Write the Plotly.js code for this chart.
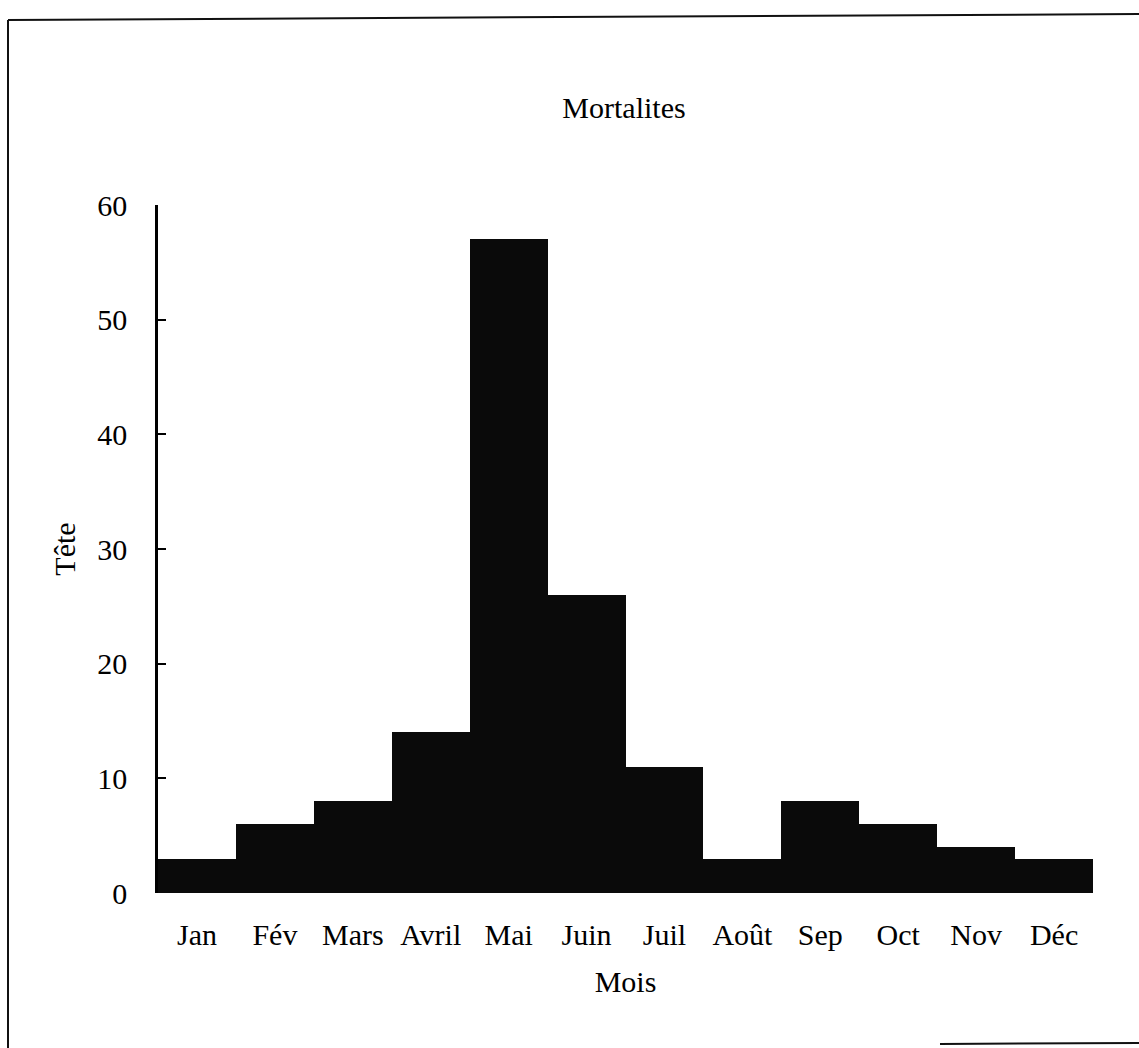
<!DOCTYPE html>
<html>
<head>
<meta charset="utf-8">
<script src="https://cdn.plot.ly/plotly-3.0.1.min.js"></script>
<style>
  html, body { margin: 0; padding: 0; background: #fff; }
  #chart { width: 1139px; height: 1048px; }
</style>
</head>
<body>
<div id="chart"></div>
<script>
const months = ["Jan", "Fév", "Mars", "Avril", "Mai", "Juin", "Juil", "Août", "Sep", "Oct", "Nov", "Déc"];
const deaths = [3, 6, 8, 14, 57, 26, 11, 3, 8, 6, 4, 3];
const yTicks = [0, 10, 20, 30, 40, 50, 60];

const W = 1139, H = 1048;
const M = { l: 158, r: 46, t: 205, b: 155 };
const pw = W - M.l - M.r, ph = H - M.t - M.b;
const px = x => (x - M.l) / pw;
const py = y => (H - M.b - y) / ph;

const font = "Liberation Serif, Times New Roman, serif";

const trace = {
  type: "bar",
  x: months,
  y: deaths,
  marker: { color: "#0a0a0a", line: { width: 0 } },
  hoverinfo: "x+y"
};

const frame = { type: "line", xref: "paper", yref: "paper", line: { color: "#111", width: 2 } };

const layout = {
  width: W,
  height: H,
  margin: M,
  paper_bgcolor: "#fff",
  plot_bgcolor: "#fff",
  showlegend: false,
  bargap: 0,
  font: { family: font, size: 30, color: "#000" },
  title: {
    text: "Mortalites",
    font: { family: font, size: 30, color: "#000" },
    x: px(624), xanchor: "center", xref: "paper",
    y: 1 - 107 / H, yanchor: "middle", yref: "container"
  },
  xaxis: {
    type: "category",
    showline: false,
    showgrid: false,
    zeroline: false,
    ticks: "",
    ticklabelstandoff: 21,
    tickfont: { family: font, size: 30, color: "#000" },
    title: { text: "Mois", standoff: 20, font: { family: font, size: 30, color: "#000" } }
  },
  yaxis: {
    range: [0, 60],
    tickvals: yTicks,
    ticktext: yTicks.map(String),
    showline: true,
    linecolor: "#000",
    linewidth: 2.5,
    showgrid: false,
    zeroline: false,
    ticks: "inside",
    ticklen: 8,
    tickwidth: 1.5,
    tickcolor: "#000",
    ticklabelstandoff: 22,
    tickfont: { family: font, size: 30, color: "#000" },
    title: { text: "Tête", standoff: 13, font: { family: font, size: 30, color: "#000" } }
  },
  shapes: [
    Object.assign({}, frame, { x0: px(8), x1: px(8), y0: py(20), y1: py(1048) }),
    Object.assign({}, frame, { x0: px(8), x1: px(1139), y0: py(20), y1: py(14) }),
    Object.assign({}, frame, { x0: px(940), x1: px(1139), y0: py(1044), y1: py(1043) })
  ]
};

Plotly.newPlot("chart", [trace], layout, { displayModeBar: false, staticPlot: false });
</script>
</body>
</html>
